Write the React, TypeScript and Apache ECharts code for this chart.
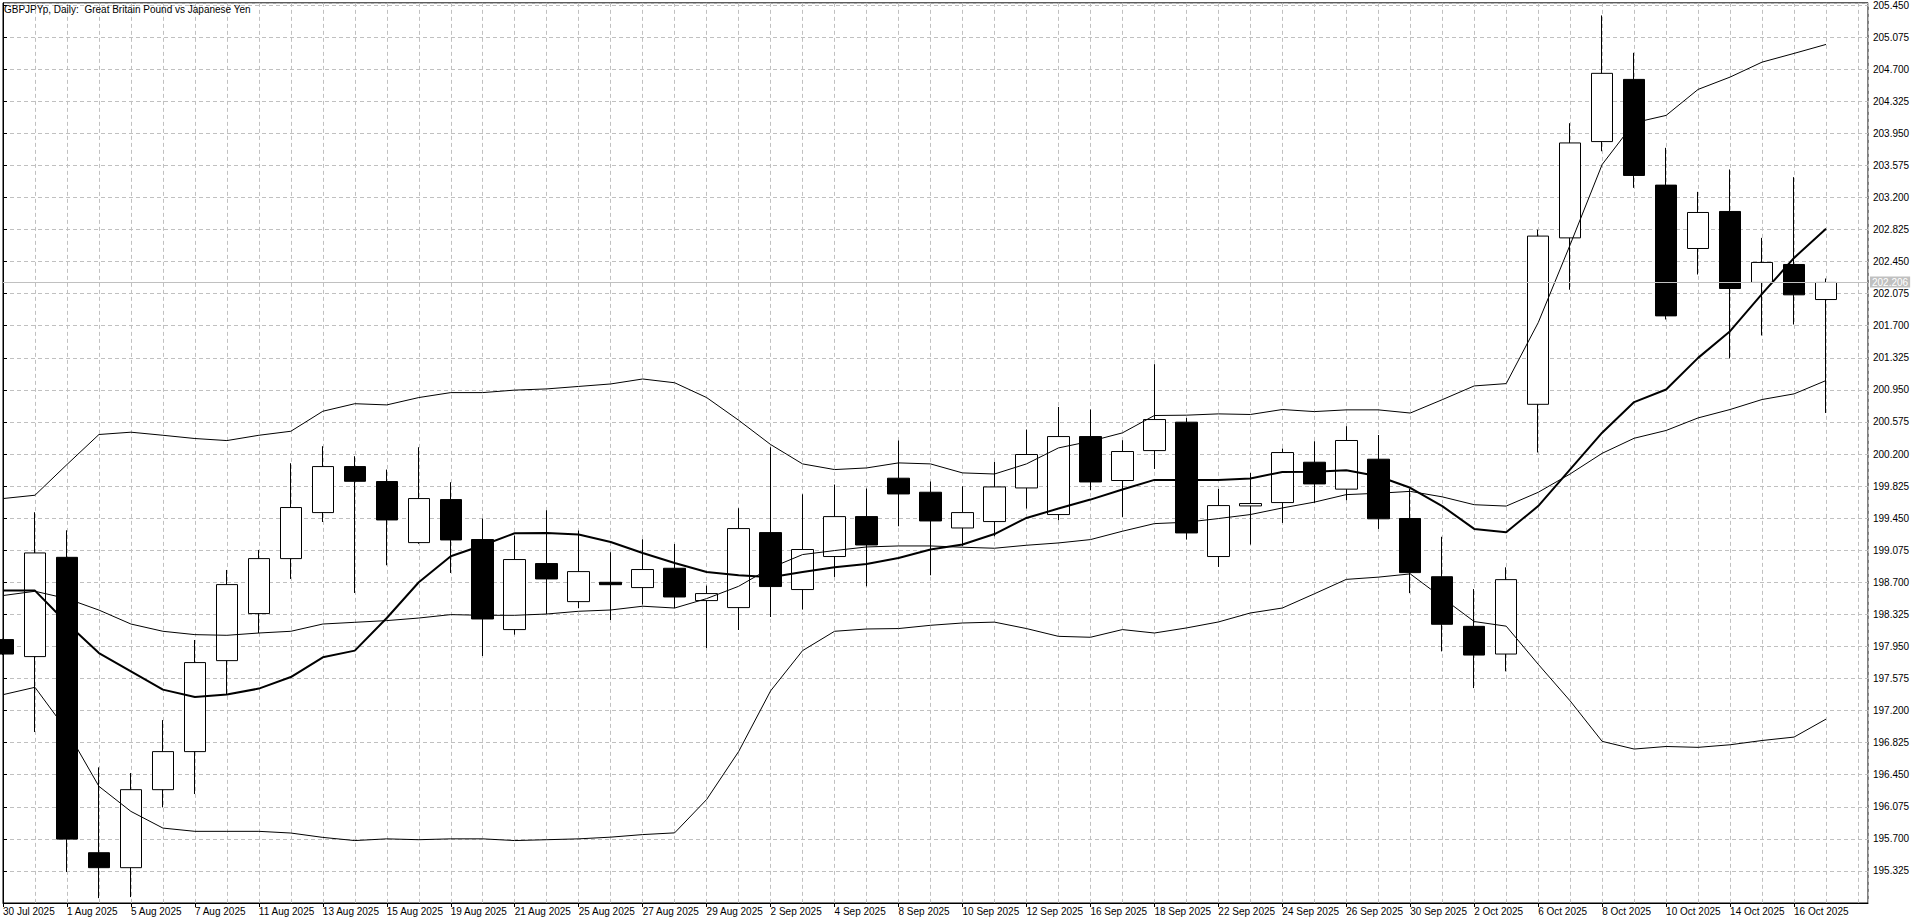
import * as echarts from "echarts";
import { useEffect, useRef } from "react";

// GBPJPY daily bars, 30 Jul 2025 .. 17 Oct 2025
const dates = [
  "30 Jul 2025", "31 Jul 2025", "1 Aug 2025", "4 Aug 2025", "5 Aug 2025", "6 Aug 2025", "7 Aug 2025", "8 Aug 2025",
  "11 Aug 2025", "12 Aug 2025", "13 Aug 2025", "14 Aug 2025", "15 Aug 2025", "18 Aug 2025", "19 Aug 2025",
  "20 Aug 2025", "21 Aug 2025", "22 Aug 2025", "25 Aug 2025", "26 Aug 2025", "27 Aug 2025", "28 Aug 2025",
  "29 Aug 2025", "1 Sep 2025", "2 Sep 2025", "3 Sep 2025", "4 Sep 2025", "5 Sep 2025", "8 Sep 2025",
  "9 Sep 2025", "10 Sep 2025", "11 Sep 2025", "12 Sep 2025", "15 Sep 2025", "16 Sep 2025", "17 Sep 2025",
  "18 Sep 2025", "19 Sep 2025", "22 Sep 2025", "23 Sep 2025", "24 Sep 2025", "25 Sep 2025", "26 Sep 2025",
  "29 Sep 2025", "30 Sep 2025", "1 Oct 2025", "2 Oct 2025", "3 Oct 2025", "6 Oct 2025", "7 Oct 2025",
  "8 Oct 2025", "9 Oct 2025", "10 Oct 2025", "13 Oct 2025", "14 Oct 2025", "15 Oct 2025", "16 Oct 2025",
  "17 Oct 2025",
];

const opens = [
  198.030, 197.831, 198.992, 195.538, 195.363, 196.275, 196.720, 197.784, 198.334, 198.977,
  199.515, 200.053, 199.878, 199.164, 199.667, 199.200, 198.147, 198.919, 198.474, 198.700,
  198.638, 198.864, 198.486, 198.404, 199.281, 198.615, 199.001, 199.468, 199.917, 199.753,
  199.335, 199.410, 199.803, 199.492, 200.404, 199.890, 200.240, 200.572, 199.001, 199.593,
  199.632, 200.104, 199.789, 200.139, 199.446, 198.765, 198.185, 197.861, 200.781, 202.727,
  203.853, 204.580, 203.344, 202.603, 203.036, 202.206, 202.416, 202.006,
];

const closes = [
  197.861, 199.043, 195.697, 195.363, 196.275, 196.720, 197.761, 198.673, 198.977, 199.574,
  200.053, 199.881, 199.429, 199.679, 199.195, 198.271, 198.966, 198.739, 198.825, 198.672,
  198.849, 198.528, 198.568, 199.328, 198.650, 199.083, 199.468, 199.136, 199.733, 199.417,
  199.515, 199.815, 200.194, 200.404, 199.873, 200.229, 200.603, 199.277, 199.597, 199.621,
  200.217, 199.850, 200.358, 199.442, 198.813, 198.209, 197.849, 198.731, 202.748, 203.837,
  204.651, 203.457, 201.815, 203.024, 202.135, 202.440, 202.061, 202.206,
];

const lows = [
  197.850, 196.949, 195.312, 195.007, 195.019, 196.068, 196.224, 197.386, 198.107, 198.739,
  199.405, 198.575, 198.899, 199.150, 198.809, 197.838, 198.088, 198.329, 198.399, 198.259,
  198.439, 198.399, 197.932, 198.142, 198.294, 198.381, 198.762, 198.653, 199.355, 198.782,
  199.121, 199.238, 199.562, 199.425, 199.776, 199.464, 200.025, 199.199, 198.879, 199.141,
  199.394, 199.628, 199.660, 199.324, 198.573, 197.892, 197.463, 197.659, 200.218, 202.121,
  203.740, 203.312, 201.773, 202.299, 201.317, 201.586, 201.714, 200.680,
];

const highs = [
  198.040, 199.519, 199.308, 196.536, 196.469, 197.089, 198.025, 198.844, 199.078, 200.092,
  200.291, 200.174, 200.018, 200.279, 199.870, 199.445, 199.246, 199.542, 199.305, 199.051,
  199.203, 199.148, 198.661, 199.566, 200.279, 199.729, 199.843, 199.796, 200.358, 199.878,
  199.823, 200.107, 200.486, 200.750, 200.720, 200.361, 201.250, 200.622, 199.791, 199.978,
  200.264, 200.349, 200.525, 200.422, 199.795, 199.232, 198.621, 198.875, 202.823, 204.068,
  205.328, 204.891, 203.780, 203.265, 203.527, 202.727, 203.437, 202.252,
];

// thick moving average
const maLine = [
  198.603, 198.603, 198.221, 197.873, 197.659, 197.445, 197.359, 197.387, 197.457, 197.592,
  197.823, 197.901, 198.282, 198.700, 199.004, 199.133, 199.273, 199.277, 199.258, 199.171,
  199.043, 198.926, 198.821, 198.782, 198.759, 198.821, 198.876, 198.914, 198.984, 199.083,
  199.141, 199.264, 199.452, 199.562, 199.667, 199.784, 199.897, 199.897, 199.897, 199.913,
  199.990, 199.992, 200.009, 199.940, 199.805, 199.591, 199.324, 199.285, 199.591, 200.021,
  200.449, 200.807, 200.954, 201.324, 201.636, 202.072, 202.493, 202.833,
];

// bollinger bands
const bbUpper = [
  199.679, 199.718, 200.077, 200.428, 200.455, 200.419, 200.381, 200.357, 200.419, 200.466,
  200.700, 200.788, 200.774, 200.860, 200.918, 200.918, 200.947, 200.961, 200.990, 201.019,
  201.077, 201.033, 200.860, 200.595, 200.311, 200.084, 200.018, 200.037, 200.096, 200.084,
  199.979, 199.966, 200.084, 200.271, 200.349, 200.447, 200.650, 200.654, 200.669, 200.662,
  200.720, 200.696, 200.716, 200.716, 200.679, 200.835, 200.996, 201.023, 201.735, 202.647,
  203.585, 204.073, 204.159, 204.463, 204.607, 204.782, 204.884, 204.989,
];

const bbMiddle = [
  198.545, 198.595, 198.509, 198.375, 198.212, 198.127, 198.088, 198.080, 198.107, 198.127,
  198.212, 198.232, 198.252, 198.282, 198.322, 198.314, 198.314, 198.329, 198.361, 198.376,
  198.420, 198.399, 198.509, 198.653, 198.868, 199.024, 199.071, 199.113, 199.125, 199.125,
  199.110, 199.098, 199.133, 199.160, 199.199, 199.297, 199.386, 199.402, 199.445, 199.492,
  199.569, 199.637, 199.725, 199.741, 199.763, 199.699, 199.607, 199.591, 199.752, 199.967,
  200.208, 200.384, 200.475, 200.622, 200.720, 200.837, 200.903, 201.059,
];

const bbLower = [
  197.386, 197.472, 196.965, 196.314, 196.021, 195.826, 195.788, 195.788, 195.788, 195.768,
  195.717, 195.680, 195.700, 195.690, 195.700, 195.700, 195.680, 195.690, 195.700, 195.720,
  195.750, 195.770, 196.160, 196.720, 197.430, 197.901, 198.127, 198.154, 198.159, 198.197,
  198.224, 198.234, 198.159, 198.068, 198.057, 198.147, 198.107, 198.166, 198.236, 198.341,
  198.399, 198.565, 198.734, 198.760, 198.798, 198.519, 198.241, 198.187, 197.742, 197.313,
  196.840, 196.750, 196.780, 196.770, 196.800, 196.850, 196.890, 197.100,
];

const TITLE = "GBPJPYp, Daily:  Great Britain Pound vs Japanese Yen";
const FONT = "'Liberation Sans', Arial, sans-serif";
const GRID_COLOR = "#c0c0c0";

export default function App() {
  const ref = useRef<HTMLDivElement>(null);

  useEffect(() => {
    if (!ref.current) return;
    const chart = echarts.init(ref.current, null, { renderer: "svg" });

    // plot is 1866px wide, 32px per bar -> 58.3125 bars
    const xMax = 58.3125;
    const candles = dates.map((_, i) => [i, opens[i], closes[i], lows[i], highs[i]]);
    const toLine = (vals: number[]) => vals.map((v, i) => [i, v]);
    const lastClose = closes[closes.length - 1];
    const labelIdx = dates.map((_, i) => i).filter((i) => i % 2 === 0);

    const lineSeries = (vals: number[], width: number) => ({
      type: "line",
      data: toLine(vals),
      showSymbol: false,
      symbol: "none",
      silent: true,
      lineStyle: { color: "#000", width },
      emphasis: { disabled: true },
    });

    chart.setOption({
      animation: false,
      title: {
        text: TITLE,
        left: 4,
        top: 4,
        padding: 0,
        textStyle: { fontSize: 10, fontWeight: "normal", color: "#000", fontFamily: FONT },
      },
      grid: {
        left: 2,
        right: 52,
        top: 2,
        bottom: 20,
        show: true,
        borderColor: "#000",
        borderWidth: 1,
      },
      xAxis: [
        {
          type: "value",
          min: 0,
          max: xMax,
          interval: 1,
          axisLine: { show: true, lineStyle: { color: "#000", width: 1 } },
          axisTick: { show: false },
          axisLabel: { show: false },
          splitLine: { show: true, lineStyle: { color: GRID_COLOR, type: [4, 3], width: 1 } },
        },
        {
          type: "value",
          position: "bottom",
          min: 0,
          max: xMax,
          interval: 2,
          axisLine: { show: false },
          axisTick: {
            show: true,
            length: 4,
            customValues: labelIdx,
            lineStyle: { color: "#000" },
          },
          axisLabel: {
            show: true,
            customValues: labelIdx,
            align: "left",
            margin: 3,
            fontSize: 10,
            color: "#000",
            fontFamily: FONT,
            formatter: (v: number) =>
              Number.isInteger(v) && v % 2 === 0 && v < dates.length ? dates[v] : "",
          },
          splitLine: { show: false },
        },
      ],
      yAxis: {
        type: "value",
        position: "right",
        min: 194.95,
        max: 205.475,
        interval: 0.375,
        axisLine: { show: true, lineStyle: { color: "#000", width: 1 } },
        axisTick: { show: true, length: 4, lineStyle: { color: "#000" } },
        axisLabel: {
          margin: 5,
          fontSize: 10,
          color: "#000",
          fontFamily: FONT,
          showMinLabel: false,
          showMaxLabel: false,
          formatter: (v: number) => v.toFixed(3),
        },
        splitLine: { show: true, lineStyle: { color: GRID_COLOR, type: [4, 3], width: 1 } },
      },
      series: [
        {
          type: "candlestick",
          xAxisIndex: 0,
          data: candles,
          barWidth: 22,
          clip: true,
          silent: true,
          emphasis: { disabled: true },
          itemStyle: {
            color: "#fff",
            color0: "#000",
            borderColor: "#000",
            borderColor0: "#000",
            borderWidth: 1,
          },
          markLine: {
            silent: true,
            symbol: ["none", "none"],
            lineStyle: { color: GRID_COLOR, type: "solid", width: 1 },
            label: {
              position: "end",
              distance: 2,
              formatter: lastClose.toFixed(3),
              color: "#fff",
              backgroundColor: GRID_COLOR,
              padding: [1, 2, 0, 2],
              lineHeight: 10,
              fontSize: 10,
              fontFamily: FONT,
            },
            data: [{ yAxis: lastClose }],
          },
        },
        lineSeries(bbUpper, 1),
        lineSeries(bbMiddle, 1),
        lineSeries(bbLower, 1),
        lineSeries(maLine, 2),
      ],
    });

    return () => chart.dispose();
  }, []);

  return (
    <div
      ref={ref}
      style={{ position: "fixed", left: 0, top: 0, width: 1920, height: 923, background: "#fff" }}
    />
  );
}
